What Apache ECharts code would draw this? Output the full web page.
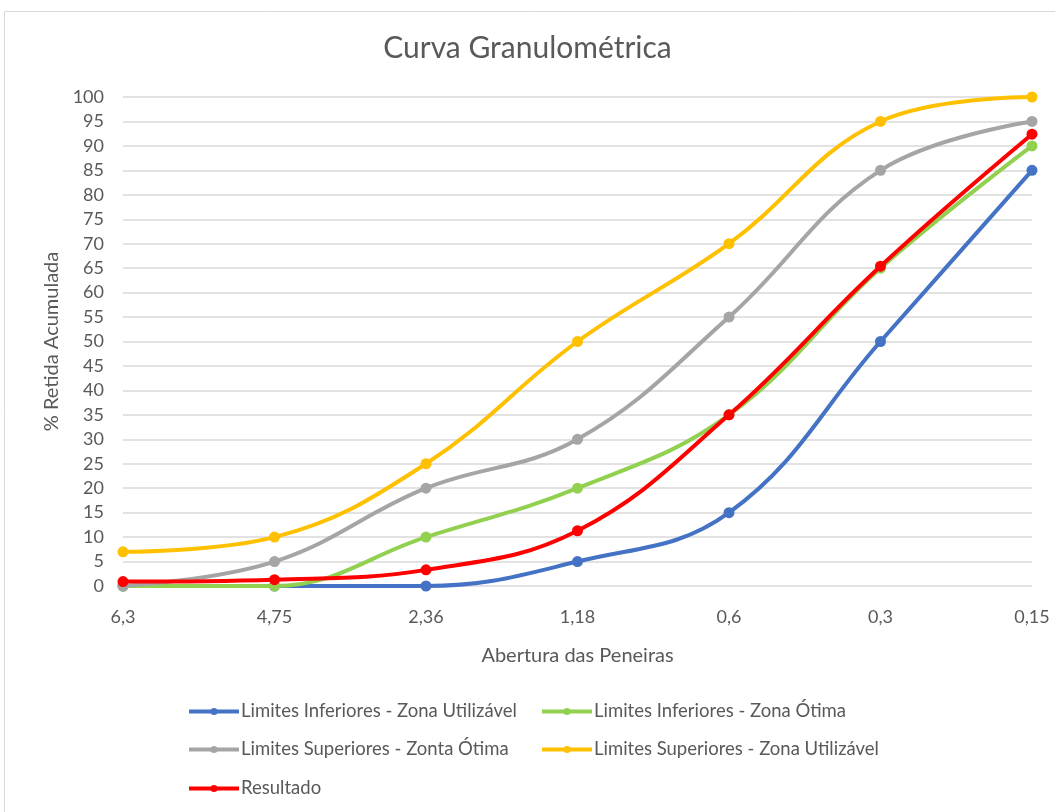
<!DOCTYPE html>
<html><head><meta charset="utf-8">
<script src="https://cdn.jsdelivr.net/npm/echarts@6/dist/echarts.min.js"></script>
<style>html,body{margin:0;padding:0;background:#fff}#c{width:1055px;height:812px}</style>
</head><body><div id="c"></div>
<script>
const categories = ['6,3', '4,75', '2,36', '1,18', '0,6', '0,3', '0,15'];
const seriesNames = [
  'Limites Inferiores - Zona Utilizável',
  'Limites Inferiores - Zona Ótima',
  'Limites Superiores - Zonta Ótima',
  'Limites Superiores - Zona Utilizável',
  'Resultado'
];
const infUtil = [0, 0, 0, 5, 15, 50, 85];
const infOtima = [0, 0, 10, 20, 35, 65, 90];
const supOtima = [0, 5, 20, 30, 55, 85, 95];
const supUtil = [7, 10, 25, 50, 70, 95, 100];
const resultado = [0.9, 1.3, 3.3, 11.3, 35, 65.4, 92.4];
const colors = ['#4472C4', '#92D050', '#A5A5A5', '#FFC000', '#FF0000'];
const values = [infUtil, infOtima, supOtima, supUtil, resultado];

const font = 'Lato, "Open Sans", sans-serif';
const txt = '#595959';
const chart = echarts.init(document.getElementById('c'));
const legendPos = [[187, 702], [540, 702], [187, 740], [540, 740], [187, 779]];
chart.setOption({
  animation: false,
  backgroundColor: '#fff',
  graphic: [{type: 'rect', shape: {x: 4.5, y: 11.5, width: 1070, height: 820}, style: {fill: 'none', stroke: '#d9d9d9', lineWidth: 1}, silent: true}],
  title: {text: 'Curva Granulométrica', left: 'center', top: 28, textStyle: {fontFamily: font, fontSize: 30, fontWeight: 'normal', color: txt}},
  grid: {left: 123, right: 23, top: 97, bottom: 226, containLabel: false},
  legend: seriesNames.map((n, i) => ({
    data: [n], left: legendPos[i][0], top: legendPos[i][1], padding: 0,
    itemWidth: 50, itemHeight: 9, itemGap: 0,
    lineStyle: {width: 4},
    textStyle: {fontFamily: font, fontSize: 18.5, color: txt, padding: [0, 0, 0, -3]}
  })),
  xAxis: {
    type: 'category', data: categories, boundaryGap: false,
    name: 'Abertura das Peneiras', nameLocation: 'middle', nameGap: 60,
    nameTextStyle: {fontFamily: font, fontSize: 20, color: txt},
    axisLine: {show: false}, axisTick: {show: false},
    axisLabel: {fontFamily: font, fontSize: 18, color: txt, margin: 22}
  },
  yAxis: {
    type: 'value', min: 0, max: 100, interval: 5,
    name: '% Retida Acumulada', nameLocation: 'middle', nameGap: 58,
    nameTextStyle: {fontFamily: font, fontSize: 20, color: txt},
    axisLine: {show: false}, axisTick: {show: false},
    axisLabel: {fontFamily: font, fontSize: 18, color: txt, margin: 19},
    splitLine: {lineStyle: {color: '#d9d9d9', width: 1.5}}
  },
  series: seriesNames.map((n, i) => ({
    name: n, type: 'line', data: values[i], smooth: 0.4,
    symbol: 'circle', symbolSize: 11,
    lineStyle: {color: colors[i], width: 4},
    itemStyle: {color: colors[i]},
    z: 2 + i
  }))
});
</script></body></html>
